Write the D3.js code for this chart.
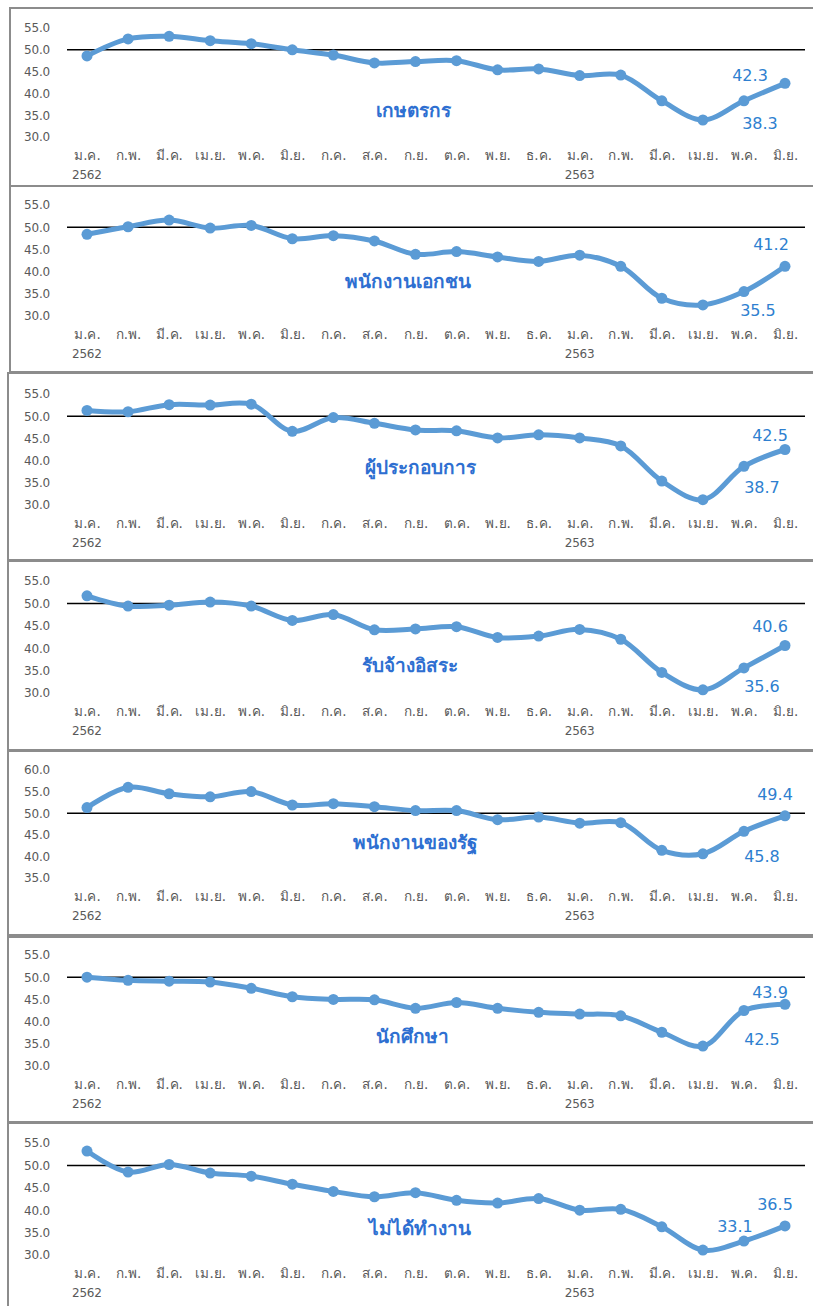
<!DOCTYPE html>
<html>
<head>
<meta charset="utf-8">
<script src="https://d3js.org/d3.v7.min.js"></script>
<style>
  body { margin: 0; background: #fff; }
  text { font-family: "DejaVu Sans", sans-serif; }
</style>
</head>
<body>
<script>
var width = 813;
var height = 1306;

// month labels (Jan 2562 .. Jun 2563)
const months = ['ม.ค.','ก.พ.','มี.ค.','เม.ย.','พ.ค.','มิ.ย.','ก.ค.','ส.ค.','ก.ย.','ต.ค.','พ.ย.','ธ.ค.',
                'ม.ค.','ก.พ.','มี.ค.','เม.ย.','พ.ค.','มิ.ย.'];
const yearLabels = [[0, '2562'], [12, '2563']];

const titles = ['เกษตรกร', 'พนักงานเอกชน', 'ผู้ประกอบการ', 'รับจ้างอิสระ', 'พนักงานของรัฐ', 'นักศึกษา', 'ไม่ได้ทำงาน'];

const farmer     = [48.6, 52.5, 53.1, 52.1, 51.4, 50.0, 48.8, 47.0, 47.3, 47.5, 45.4, 45.6, 44.1, 44.2, 38.3, 33.9, 38.3, 42.3];
const privateEmp = [48.4, 50.1, 51.6, 49.8, 50.4, 47.4, 48.1, 46.9, 43.9, 44.5, 43.3, 42.3, 43.7, 41.2, 34.0, 32.5, 35.5, 41.2];
const business   = [51.3, 51.0, 52.6, 52.5, 52.7, 46.6, 49.7, 48.4, 46.9, 46.7, 45.1, 45.8, 45.1, 43.3, 35.4, 31.2, 38.7, 42.5];
const freelance  = [51.7, 49.4, 49.6, 50.3, 49.4, 46.2, 47.5, 44.1, 44.3, 44.8, 42.4, 42.7, 44.2, 42.0, 34.6, 30.7, 35.6, 40.6];
const government = [51.3, 56.0, 54.5, 53.8, 55.0, 51.9, 52.2, 51.5, 50.6, 50.6, 48.5, 49.1, 47.7, 47.8, 41.4, 40.6, 45.8, 49.4];
const student    = [50.0, 49.3, 49.1, 48.9, 47.5, 45.6, 45.0, 44.9, 43.0, 44.3, 43.0, 42.1, 41.7, 41.3, 37.6, 34.5, 42.5, 43.9];
const notWorking = [53.2, 48.5, 50.2, 48.3, 47.6, 45.8, 44.2, 43.0, 43.9, 42.2, 41.6, 42.6, 40.0, 40.2, 36.3, 31.1, 33.1, 36.5];

const ticksA = [30, 35, 40, 45, 50, 55];
const ticksB = [35, 40, 45, 50, 55, 60];

// layout for each panel (box, y range, label nudges)
var panels = [
  {values: farmer,     ticks: ticksA, box: [10, 8, 186],    yr: [137, 28],   tx: 413, ty: 117, l17: [-35, -8],  l16: [16, 22]},
  {values: privateEmp, ticks: ticksA, box: [10, 186, 372],  yr: [316, 205],  tx: 408, ty: 288, l17: [-14, -22], l16: [14, 18]},
  {values: business,   ticks: ticksA, box: [8, 373, 560],   yr: [505, 394],  tx: 420, ty: 474, l17: [-15, -15], l16: [18, 21]},
  {values: freelance,  ticks: ticksA, box: [8, 561, 750],   yr: [693, 581],  tx: 410, ty: 672, l17: [-15, -20], l16: [18, 18]},
  {values: government, ticks: ticksB, box: [8, 751, 935],   yr: [878, 770],  tx: 415, ty: 849, l17: [-10, -22], l16: [18, 25]},
  {values: student,    ticks: ticksA, box: [8, 937, 1122],  yr: [1066, 955], tx: 412, ty: 1043, l17: [-15, -12], l16: [18, 28]},
  {values: notWorking, ticks: ticksA, box: [8, 1123, 1310], yr: [1255, 1143], tx: 420, ty: 1235, l17: [-10, -22], l16: [-9, -15]}
];

let svg = d3.select('body')
    .append('svg')
        .attr('width', width)
        .attr('height', height);

var xScale = d3.scalePoint()
    .domain(d3.range(months.length))
    .range([87, 785]);

var lineColor = '#5b9bd5';

panels.forEach(function(p, i) {
    var g = svg.append('g');
    var y0 = p.ticks[0], y1 = p.ticks[p.ticks.length - 1];
    var yScale = d3.scaleLinear()
        .domain([y0, y1])
        .range(p.yr);

    // panel frame
    g.append('rect')
        .attr('x', p.box[0])
        .attr('y', p.box[1])
        .attr('width', width - p.box[0] + 4)
        .attr('height', p.box[2] - p.box[1])
        .attr('fill', 'none')
        .attr('stroke', '#8c8c8c')
        .attr('stroke-width', 2);

    // y axis, labels only
    var yAxis = d3.axisLeft(yScale)
        .tickValues(p.ticks)
        .tickFormat(d3.format('.1f'))
        .tickSize(0)
        .tickPadding(0);
    g.append('g')
        .attr('class', 'y axis')
        .attr('transform', 'translate(50,0)')
        .call(yAxis)
        .call(a => a.select('.domain').remove())
        .selectAll('text')
            .attr('fill', '#595959')
            .style('font-size', '12px')
            .style('letter-spacing', '-0.2px');

    // x axis month labels
    var xAxis = d3.axisBottom(xScale)
        .tickFormat(d => months[d])
        .tickSize(0)
        .tickPadding(0);
    var xa = g.append('g')
        .attr('class', 'x axis')
        .attr('transform', 'translate(0,' + (p.yr[0] + 13) + ')')
        .call(xAxis);
    xa.select('.domain').remove();
    xa.selectAll('text')
        .attr('fill', '#595959')
        .style('font-size', '13.5px');

    yearLabels.forEach(function(yl) {
        g.append('text')
            .attr('x', xScale(yl[0]) - 15)
            .attr('y', p.yr[0] + 42)
            .attr('fill', '#595959')
            .style('font-size', '12px')
            .style('letter-spacing', '-0.2px')
            .text(yl[1]);
    });

    // reference line at 50
    g.append('line')
        .attr('x1', 67)
        .attr('x2', 805)
        .attr('y1', yScale(50))
        .attr('y2', yScale(50))
        .attr('stroke', '#000')
        .attr('stroke-width', 1.5);

    var line = d3.line()
        .x((d, k) => xScale(k))
        .y(d => yScale(d))
        .curve(d3.curveCatmullRom.alpha(0.5));

    g.append('path')
        .datum(p.values)
        .attr('fill', 'none')
        .attr('stroke', lineColor)
        .attr('stroke-width', 5)
        .attr('d', line);

    g.selectAll('.dot')
        .data(p.values)
        .enter().append('circle')
            .attr('class', 'dot')
            .attr('cx', (d, k) => xScale(k))
            .attr('cy', d => yScale(d))
            .attr('r', 5.5)
            .attr('fill', lineColor);

    // title
    g.append('text')
        .attr('x', p.tx)
        .attr('y', p.ty)
        .attr('text-anchor', 'middle')
        .attr('fill', '#2e6fd1')
        .style('font-size', '19px')
        .style('font-weight', 'bold')
        .text(titles[i]);

    // value labels on the last two months
    var n = p.values.length;
    [[n - 1, p.l17], [n - 2, p.l16]].forEach(function(l) {
        g.append('text')
            .attr('x', xScale(l[0]) + l[1][0])
            .attr('y', yScale(p.values[l[0]]) + l[1][1] + 6)
            .attr('text-anchor', 'middle')
            .attr('fill', '#2e7fd0')
            .style('font-size', '16px')
            .text(p.values[l[0]].toFixed(1));
    });
});
</script>
</body>
</html>
